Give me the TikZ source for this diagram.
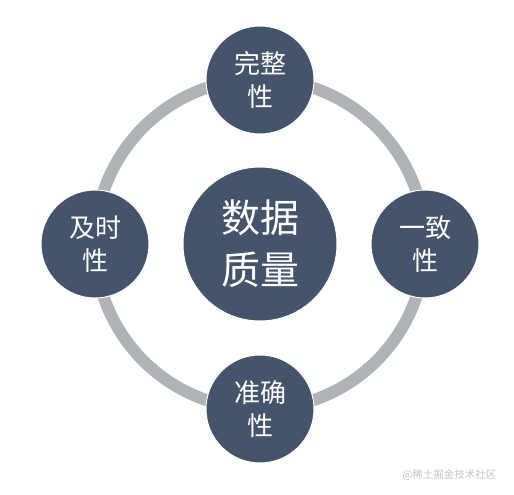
\documentclass[tikz,border=0pt]{standalone}
\usepackage{fontspec}
\setmainfont{Noto Sans CJK SC}
\usepackage{tikz}
\usetikzlibrary{positioning}
\definecolor{qslate}{HTML}{44546A}
\definecolor{qring}{HTML}{AFB2B6}
\definecolor{qcredit}{HTML}{C4C4C4}

\begin{document}
\begin{tikzpicture}[x=1pt,y=-1pt,
  hub/.style={circle,fill=qslate,draw=white,line width=1pt,minimum size=154pt,inner sep=0pt,align=center,text=white,font=\fontsize{39}{52}\selectfont},
  attr/.style={circle,fill=qslate,draw=white,line width=1pt,minimum size=108pt,inner sep=0pt,align=center,text=white,font=\fontsize{26}{33}\selectfont},
  ring/.style={draw=qring,line width=12pt}]
\useasboundingbox (0,0) rectangle (514,495);
\coordinate (mid) at (260,244);
\draw[ring] (mid) circle[radius=165pt];
\node[hub] (hub) at (mid) {数据\\质量};
\node[attr] (full) at (260,80) {完整\\性};
\node[attr] (same) at (425,244) {一致\\性};
\node[attr] (exact) at (260,409) {准确\\性};
\node[attr] (timely) at (95,244) {及时\\性};
\node[font=\fontsize{10.5}{12}\selectfont,text=qcredit,anchor=east] (credit) at (500,475) {@稀土掘金技术社区};
\end{tikzpicture}
\end{document}
